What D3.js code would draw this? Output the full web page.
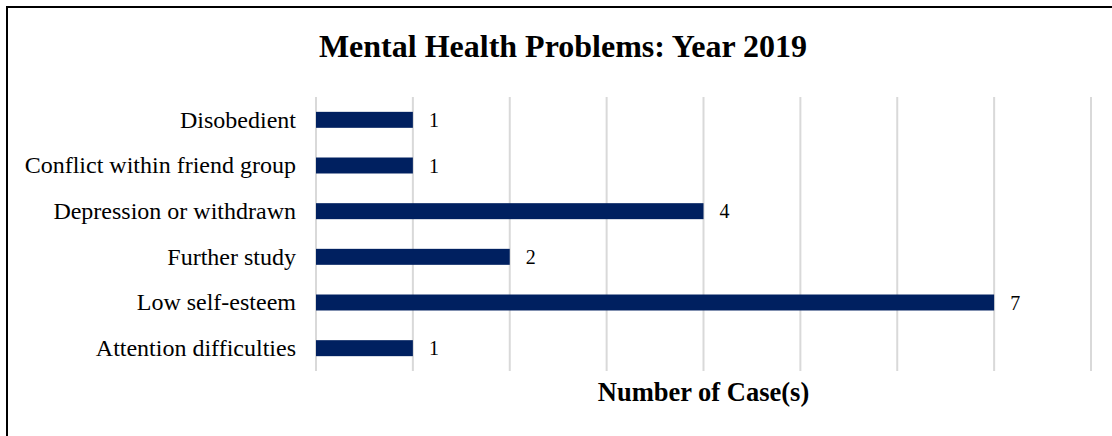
<!DOCTYPE html>
<html>
<head>
<meta charset="utf-8">
<script src="https://cdn.jsdelivr.net/npm/d3@7"></script>
<style>
  html, body { margin: 0; padding: 0; background: #fff; }
  svg { display: block; }
  text { font-family: "Liberation Serif", "Times New Roman", serif; fill: #000; }
</style>
</head>
<body>
<svg id="chart" width="1112" height="436"></svg>
<script>
// Cases per problem, top to bottom
const categories = [
  "Disobedient",
  "Conflict within friend group",
  "Depression or withdrawn",
  "Further study",
  "Low self-esteem",
  "Attention difficulties"
];
const cases = [1, 1, 4, 2, 7, 1];
const xTicks = [0, 1, 2, 3, 4, 5, 6, 7, 8];
const titleText = "Mental Health Problems: Year 2019";
const axisTitle = "Number of Case(s)";

const svg = d3.select("#chart");
const W = 1112, H = 436;
const plot = { left: 316, right: 1091, top: 97, bottom: 371 };

// frame
svg.append("rect")
  .attr("x", 7).attr("y", 7)
  .attr("width", W + 10).attr("height", H + 10)
  .attr("fill", "none").attr("stroke", "#000").attr("stroke-width", 2);

const x = d3.scaleLinear().domain([0, 8]).range([plot.left, plot.right]);
const y = d3.scaleBand().domain(categories).range([plot.top, plot.bottom]).paddingInner(0.65).paddingOuter(0.325);

// vertical gridlines
svg.append("g")
  .selectAll("line")
  .data(xTicks)
  .join("line")
  .attr("x1", d => x(d)).attr("x2", d => x(d))
  .attr("y1", plot.top).attr("y2", plot.bottom)
  .attr("stroke", "#d9d9d9").attr("stroke-width", 2);

// category axis
const yAxis = svg.append("g")
  .attr("transform", `translate(${plot.left - 20},0)`)
  .call(d3.axisLeft(y).tickSize(0).tickPadding(0));
yAxis.select(".domain").remove();
yAxis.selectAll("text")
  .style("font-family", '"Liberation Serif", "Times New Roman", serif')
  .style("font-size", "24px")
  .attr("fill", "#000");

// bars
const row = categories.map((c, i) => ({ c, v: cases[i] }));
svg.append("g")
  .selectAll("rect")
  .data(row)
  .join("rect")
  .attr("x", x(0))
  .attr("y", d => y(d.c))
  .attr("width", d => x(d.v) - x(0))
  .attr("height", y.bandwidth())
  .attr("fill", "#002060");

// value labels
svg.append("g")
  .selectAll("text")
  .data(row)
  .join("text")
  .attr("x", d => x(d.v) + 16)
  .attr("y", d => y(d.c) + y.bandwidth() / 2)
  .attr("dy", "0.35em")
  .style("font-size", "20px")
  .text(d => d.v);

// chart title
svg.append("text")
  .attr("x", 563).attr("y", 57)
  .attr("text-anchor", "middle")
  .style("font-size", "32px").style("font-weight", "bold")
  .text(titleText);

// axis title
svg.append("text")
  .attr("x", (plot.left + plot.right) / 2).attr("y", 401)
  .attr("text-anchor", "middle")
  .style("font-size", "26.5px").style("font-weight", "bold")
  .text(axisTitle);
</script>
</body>
</html>
